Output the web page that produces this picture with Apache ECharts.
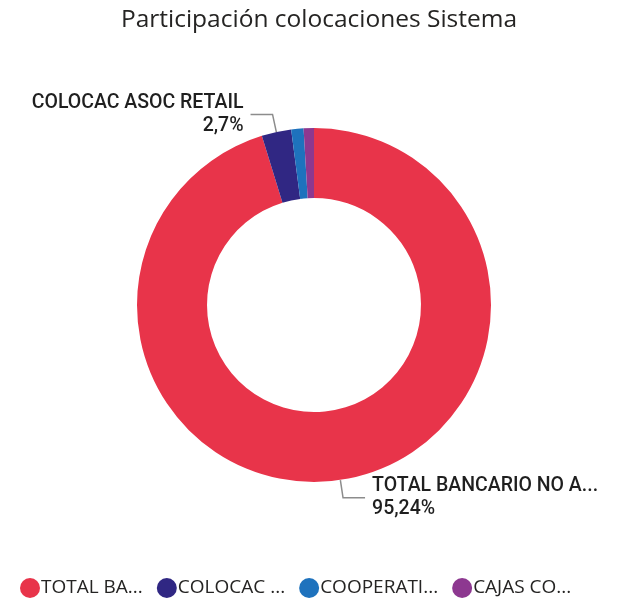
<!DOCTYPE html>
<html>
<head>
<meta charset="utf-8">
<script src="https://cdn.jsdelivr.net/npm/echarts@6/dist/echarts.min.js"></script>
<style>html,body{margin:0;padding:0;background:#fff;}#c{width:638px;height:599px;}</style>
</head>
<body>
<div id="c"></div>
<script>
const categories = ['TOTAL BANCARIO NO ASOC', 'COLOCAC ASOC RETAIL', 'COOPERATIVAS', 'CAJAS COMPENSACION'];
const legendLabels = ['TOTAL BA...', 'COLOCAC ...', 'COOPERATI...', 'CAJAS CO...'];
const labelNames = ['TOTAL BANCARIO NO A...', 'COLOCAC ASOC RETAIL', 'COOPERATIVAS', 'CAJAS COMPENSACION'];
const values = [95.24, 2.7, 1.12, 0.94];
const showLabel = [true, true, false, false];
const colors = ['#E8344A', '#302783', '#1E72BD', '#8D3890'];

const chart = echarts.init(document.getElementById('c'));
chart.setOption({
  animation: false,
  color: colors,
  title: {
    text: 'Participación colocaciones Sistema',
    left: 'center',
    top: 3,
    textStyle: { fontFamily: 'Open Sans', fontSize: 24.5, fontWeight: 'normal', color: '#252423' }
  },
  legend: {
    bottom: -4,
    left: 15,
    icon: 'circle',
    itemWidth: 20,
    itemHeight: 20,
    itemGap: 14,
    textStyle: { fontFamily: 'Open Sans', fontSize: 19, color: '#252423', padding: [0, 0, 0, -4] },
    formatter: name => legendLabels[categories.indexOf(name)],
    data: categories
  },
  series: [{
    type: 'pie',
    center: [314, 305],
    radius: [107, 177],
    startAngle: 90,
    clockwise: true,
    avoidLabelOverlap: false,
    label: {
      position: 'outside',
      fontFamily: 'Roboto',
      fontWeight: 500,
      fontSize: 19.5,
      lineHeight: 23,
      color: '#1f1f1f',
      distanceToLabelLine: 7,
      formatter: p => labelNames[p.dataIndex] + '\n' + String(p.value).replace('.', ',') + '%'
    },
    labelLine: {
      length: 18,
      length2: 22,
      lineStyle: { color: '#8c8c8c', width: 1.5 }
    },
    data: categories.map((n, i) => ({
      name: n,
      value: values[i],
      label: { show: showLabel[i] },
      labelLine: { show: showLabel[i] }
    }))
  }]
});
</script>
</body>
</html>
